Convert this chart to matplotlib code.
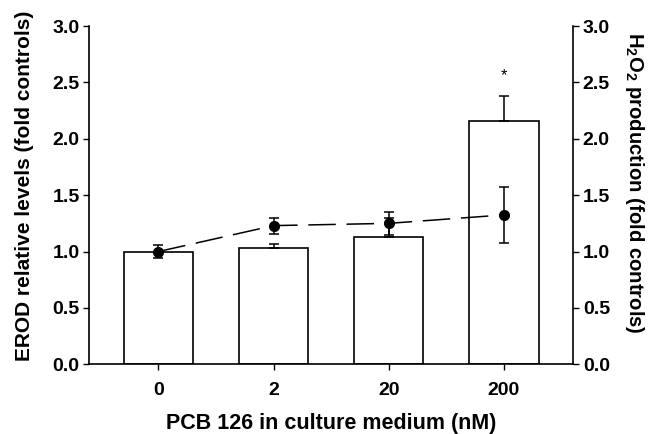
import matplotlib
matplotlib.use("Agg")
import matplotlib.pyplot as plt
import numpy as np

plt.rcParams['font.family'] = ['Liberation Sans', 'DejaVu Sans']
plt.rcParams['font.weight'] = 'bold'
plt.rcParams['mathtext.fontset'] = 'custom'
plt.rcParams['mathtext.rm'] = 'Liberation Sans:bold'
plt.rcParams['mathtext.it'] = 'Liberation Sans:bold'
plt.rcParams['mathtext.bf'] = 'Liberation Sans:bold'

categories = ['0', '2', '20', '200']
erod_values = [1.00, 1.03, 1.13, 2.16]
erod_err = [0.0, 0.04, 0.17, 0.22]
h2o2_values = [1.00, 1.23, 1.25, 1.325]
h2o2_err = [0.055, 0.07, 0.10, 0.245]
star_label = '*'
star_value = 2.56

fig = plt.figure(figsize=(6.52, 4.34), dpi=100)
ax = fig.add_axes([0.137, 0.1606, 0.742, 0.7794])
x = np.arange(len(categories))

ax.bar(x, erod_values, width=0.6, color='white', edgecolor='black', linewidth=1.2, zorder=2)
ax.errorbar(x, erod_values, yerr=[np.zeros(len(erod_err)), erod_err], fmt='none',
            ecolor='black', elinewidth=1.1, capsize=3.5, capthick=1.1, zorder=3)
ax.text(x[3], star_value, star_label, ha='center', va='center', fontsize=12, fontweight='normal')

ax.set_xlim(-0.6, 3.6)
ax.set_ylim(0, 3.0)
ticks = np.arange(0, 3.01, 0.5)
ax.set_yticks(ticks)
ax.set_yticklabels([f'{v:.1f}' for v in ticks])
ax.set_xticks(x)
ax.set_xticklabels(categories)
ax.tick_params(axis='both', labelsize=14, width=1, length=4, direction='out')
ax.tick_params(axis='x', pad=9)
ax.tick_params(axis='y', pad=3)
for lab in ax.get_xticklabels() + ax.get_yticklabels():
    lab.set_fontweight('bold')
ax.spines['top'].set_visible(False)
ax.spines['right'].set_visible(False)
ax.spines['left'].set_linewidth(1.2)
ax.spines['bottom'].set_linewidth(1.2)
ax.set_xlabel('PCB 126 in culture medium (nM)', fontsize=15.5, fontweight='bold', labelpad=10)
ax.set_ylabel('EROD relative levels (fold controls)', fontsize=15, fontweight='bold')
ax.yaxis.set_label_coords(-0.135, 0.527)
ax.yaxis.label.set_rotation_mode('anchor')
ax.yaxis.label.set_va('center')
ax.yaxis.label.set_ha('center')

ax2 = ax.twinx()
ax2.set_ylim(0, 3.0)
ax2.set_yticks(ticks)
ax2.set_yticklabels([f'{v:.1f}' for v in ticks])
ax2.tick_params(axis='y', labelsize=14, width=1, length=4, direction='out', pad=3)
for lab in ax2.get_yticklabels():
    lab.set_fontweight('bold')
for s in ['top', 'left', 'bottom']:
    ax2.spines[s].set_visible(False)
ax2.spines['right'].set_linewidth(1.2)
line, = ax2.plot(x, h2o2_values, color='black', linewidth=1.1, zorder=4)
line.set_dashes((18, 7))
ax2.errorbar(x, h2o2_values, yerr=h2o2_err, fmt='o', color='black', markersize=7,
             ecolor='black', elinewidth=1.1, capsize=3.5, capthick=1.1, zorder=5)
ax2.set_ylabel('H$_2$O$_2$ production (fold controls)', fontsize=14.6, fontweight='bold',
               rotation=270)
ax2.yaxis.set_label_coords(1.126, 0.536)
ax2.yaxis.label.set_rotation_mode('anchor')
ax2.yaxis.label.set_va('center')
ax2.yaxis.label.set_ha('center')

fig.savefig('out.png', dpi=100)
